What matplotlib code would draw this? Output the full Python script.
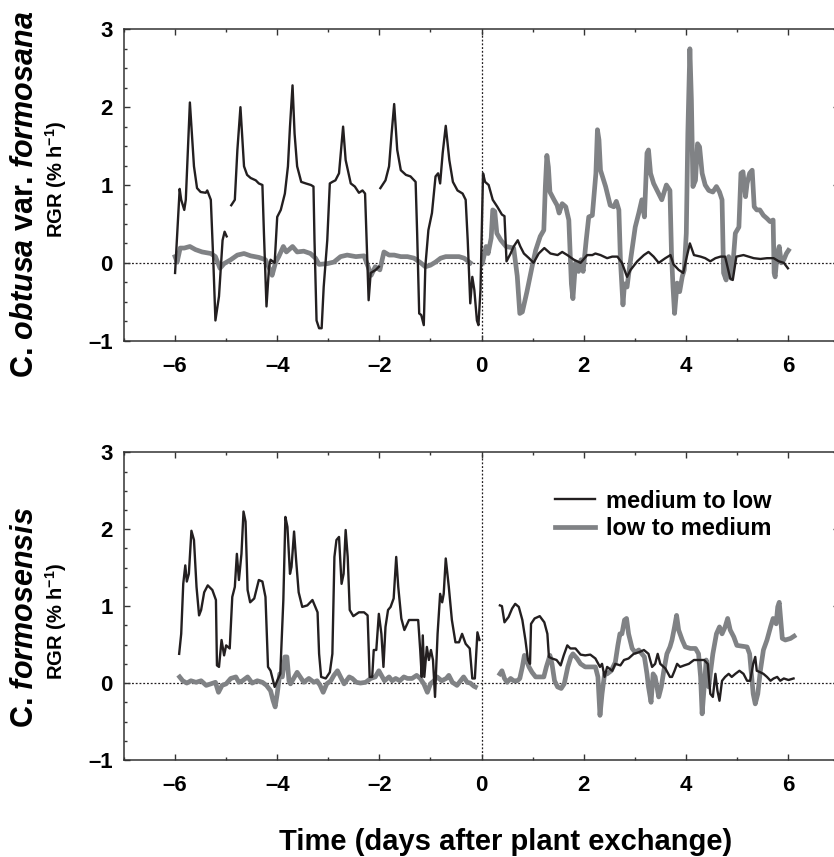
import numpy as np
import matplotlib
matplotlib.use("Agg")
import matplotlib.pyplot as plt
from matplotlib.ticker import MultipleLocator, FuncFormatter

nan = np.nan

# ---------------------------
# C. obtusa var. formosana (top)
# ---------------------------
top_ml_t = [-6.00, -5.91, -5.88, -5.82, -5.79, -5.71, -5.63, -5.57, -5.50, -5.40, -5.37, -5.30,
            -5.25, -5.21, -5.14, -5.07, -5.03, -4.99, -4.95,
            -4.90, -4.83, -4.78, -4.72, -4.65, -4.59, -4.52, -4.42, -4.36, -4.29, -4.26, -4.21,
            -4.16, -4.13, -4.05, -4.00, -3.93, -3.85, -3.79, -3.75, -3.70, -3.66, -3.61, -3.53,
            -3.44, -3.34, -3.29, -3.27, -3.23, -3.18, -3.13, -3.09, -3.02, -2.97, -2.92, -2.86,
            -2.79, -2.71, -2.66, -2.56, -2.48, -2.40, -2.33, -2.28, -2.25, -2.21, -2.17, -2.07,
            -2.01, -1.99,
            -1.98, -1.88, -1.81, -1.76, -1.71, -1.65, -1.58, -1.48, -1.39, -1.29, -1.26, -1.22,
            -1.18, -1.13, -1.10, -1.04, -0.97, -0.90, -0.85, -0.81, -0.76, -0.70, -0.63, -0.56,
            -0.47, -0.37, -0.31, -0.27, -0.22, -0.18, -0.14, -0.09, -0.06, -0.02, 0.03, 0.07,
            0.14, 0.22, 0.31, 0.40, 0.45, 0.49, 0.57, 0.63, 0.71, 0.76, 0.83, 0.93, 1.02, 1.12,
            1.23, 1.35, 1.49, 1.58, 1.68, 1.81, 1.94, 2.07, 2.17, 2.23, 2.33, 2.46, 2.56, 2.66,
            2.75, 2.85, 2.92, 3.05, 3.18, 3.27, 3.37, 3.47, 3.60, 3.70, 3.76, 3.86, 3.95, 4.02,
            4.08, 4.16, 4.29, 4.38, 4.48, 4.58, 4.68, 4.77, 4.87, 4.92, 4.99, 5.13, 5.23, 5.33,
            5.46, 5.59, 5.72, 5.82, 5.92, 6.00]
top_ml_v = [-0.13, 0.95, 0.81, 0.68, 0.81, 2.06, 1.24, 0.96, 0.91, 0.90, 0.93, 0.81,
            0.00, -0.74, -0.43, 0.29, 0.40, 0.34, nan,
            0.74, 0.81, 1.45, 2.00, 1.24, 1.13, 1.09, 1.06, 1.02, 1.00, 0.38, -0.56,
            -0.05, 0.04, 0.00, 0.59, 0.68, 0.89, 1.24, 1.75, 2.28, 1.66, 1.24, 1.04,
            1.02, 1.00, 0.98, 0.29, -0.74, -0.84, -0.84, -0.31, 0.29, 1.02, 1.04, 1.06,
            1.15, 1.75, 1.32, 1.02, 0.98, 0.90, 0.93, 0.89, 0.29, -0.48, -0.13, -0.09,
            -0.05, nan,
            0.96, 1.06, 1.24, 1.66, 2.04, 1.45, 1.19, 1.13, 1.11, 1.04, 0.38, -0.65,
            -0.67, -0.80, -0.05, 0.42, 0.64, 1.11, 1.15, 1.02, 1.41, 1.76, 1.32, 1.04,
            0.93, 0.89, 0.81, 0.29, -0.52, -0.18, -0.35, -0.74, -0.80, -0.35, 1.15, 1.04,
            1.00, 0.81, 0.72, 0.62, 0.60, 0.02, 0.12, 0.21, 0.29, 0.21, 0.12, 0.06, 0.00, 0.12,
            0.19, 0.12, 0.10, 0.14, 0.10, 0.04, 0.00, 0.10, 0.10, 0.12, 0.10, 0.06, 0.08, 0.08,
            0.00, -0.18, -0.09, 0.02, 0.10, 0.14, 0.08, 0.00, 0.06, 0.10, -0.02, -0.09, -0.13, 0.08,
            0.25, 0.10, 0.08, 0.06, 0.02, 0.06, 0.08, 0.08, -0.20, -0.22, 0.08, 0.10, 0.08, 0.06,
            0.05, 0.06, 0.06, 0.02, 0.00, -0.07]

top_lm_t = [-6.00, -5.96, -5.90, -5.82, -5.71, -5.60, -5.47, -5.30, -5.21, -5.12, -5.04, -4.91,
            -4.78, -4.65, -4.52, -4.36, -4.23, -4.14, -4.10, -4.03, -3.97, -3.88, -3.82, -3.70,
            -3.61, -3.48, -3.35, -3.25, -3.18, -3.02, -2.89, -2.76, -2.63, -2.46, -2.30, -2.22,
            -2.16, -2.08, -1.99, -1.91, -1.81, -1.71, -1.58, -1.45, -1.32, -1.19, -1.10, -1.00,
            -0.90, -0.80, -0.70, -0.57, -0.44, -0.34, -0.22, -0.10,
            0.02, 0.06, 0.09, 0.13, 0.19, 0.22, 0.26, 0.30, 0.38, 0.48, 0.63, 0.70, 0.75, 0.80,
            0.89, 0.99, 1.06, 1.15, 1.22, 1.25, 1.28, 1.31, 1.34, 1.42, 1.48, 1.52, 1.58, 1.65,
            1.71, 1.76, 1.79, 1.84, 1.90, 1.95, 1.99, 2.05, 2.10, 2.17, 2.24, 2.27, 2.30, 2.33,
            2.43, 2.52, 2.59, 2.64, 2.69, 2.72, 2.77, 2.80, 2.85, 2.90, 3.01, 3.08, 3.14, 3.19,
            3.24, 3.27, 3.31, 3.37, 3.47, 3.53, 3.62, 3.69, 3.72, 3.75, 3.78, 3.83, 3.88, 3.93,
            3.97, 4.01, 4.04, 4.08, 4.11, 4.14, 4.19, 4.23, 4.27, 4.32, 4.38, 4.45, 4.53, 4.60,
            4.66, 4.71, 4.74, 4.79, 4.84, 4.89, 4.93, 4.97, 5.04, 5.08, 5.12, 5.17, 5.20, 5.25,
            5.30, 5.34, 5.39, 5.45, 5.52, 5.59, 5.65, 5.71, 5.73, 5.75, 5.79, 5.83, 5.87, 5.92,
            5.97, 6.01]
top_lm_v = [0.08, 0.01, 0.19, 0.19, 0.21, 0.17, 0.14, 0.12, 0.08, -0.07, -0.01, 0.04,
            0.10, 0.12, 0.09, 0.07, 0.04, -0.09, -0.16, 0.01, 0.08, 0.21, 0.14, 0.21,
            0.14, 0.15, 0.12, 0.06, -0.02, -0.01, 0.01, 0.08, 0.10, 0.08, 0.09, -0.05,
            -0.16, -0.05, -0.09, 0.14, 0.10, 0.10, 0.08, 0.08, 0.06, 0.00, -0.05, -0.03,
            0.01, 0.06, 0.08, 0.08, 0.08, 0.06, 0.00, nan,
            0.00, 0.12, 0.21, 0.12, 0.32, 0.68, 0.66, 0.38, 0.29, 0.21, 0.19, -0.17, -0.65, -0.63,
            -0.37, -0.05, 0.16, 0.34, 0.42, 0.98, 1.38, 1.23, 0.91, 0.81, 0.74, 0.64, 0.76, 0.72,
            0.55, -0.27, -0.46, 0.00, -0.11, 0.04, -0.11, 0.29, 0.59, 0.61, 1.15, 1.71, 1.58, 1.19,
            0.98, 0.74, 0.72, 0.79, 0.68, 0.04, -0.54, -0.27, -0.31, -0.05, 0.46, 0.64, 0.81, 0.59,
            1.41, 1.45, 1.15, 1.02, 0.89, 0.81, 1.00, 0.93, 0.12, -0.31, -0.65, -0.26, -0.37, -0.18,
            -0.09, 0.38, 1.66, 2.75, 2.09, 0.98, 1.06, 1.53, 1.49, 1.15, 1.00, 0.93, 0.91, 0.98,
            0.91, 0.81, -0.13, -0.22, 0.08, -0.20, 0.04, 0.38, 0.46, 1.15, 1.17, 0.85, 1.02, 1.15,
            1.19, 0.72, 0.68, 0.68, 0.61, 0.57, 0.53, 0.55, -0.13, -0.18, 0.12, 0.21, 0.00, 0.04,
            0.12, 0.16]

# ---------------------------
# C. formosensis (bottom)
# ---------------------------
bot_ml_t = [-5.92, -5.88, -5.84, -5.80, -5.77, -5.73, -5.68, -5.63, -5.58, -5.53, -5.49, -5.43,
            -5.36, -5.27, -5.20, -5.18, -5.14, -5.09, -5.04, -5.00, -4.93, -4.88, -4.83, -4.79,
            -4.75, -4.70, -4.66, -4.62, -4.58, -4.53, -4.45, -4.36, -4.29, -4.23, -4.18, -4.13,
            -4.05, -4.00, -3.94, -3.88, -3.84, -3.80, -3.75, -3.72, -3.67, -3.63, -3.58, -3.51,
            -3.41, -3.31, -3.21, -3.18, -3.14, -3.05, -2.97, -2.92, -2.88, -2.84, -2.79, -2.74,
            -2.70, -2.66, -2.62, -2.58, -2.51, -2.40, -2.30, -2.23, -2.19, -2.14, -2.11, -2.06,
            -2.01, -1.96, -1.92, -1.88, -1.83, -1.78, -1.72, -1.67, -1.63, -1.57, -1.51, -1.42,
            -1.32, -1.24, -1.20, -1.17, -1.15, -1.12, -1.07, -1.03, -0.99, -0.95, -0.91, -0.86,
            -0.81, -0.77, -0.74, -0.70, -0.64, -0.58, -0.51, -0.44, -0.38, -0.31, -0.23, -0.18,
            -0.13, -0.08, -0.04, 0.10,
            0.36, 0.40, 0.45, 0.53, 0.60, 0.66, 0.73, 0.80, 0.86, 0.91, 0.95, 0.97, 1.04, 1.14,
            1.23, 1.29, 1.32, 1.38, 1.47, 1.55, 1.61, 1.68, 1.74, 1.84, 1.94, 2.03, 2.13, 2.23,
            2.32, 2.36, 2.41, 2.46, 2.56, 2.62, 2.72, 2.79, 2.88, 2.98, 3.08, 3.18, 3.27, 3.34,
            3.40, 3.45, 3.50, 3.60, 3.69, 3.73, 3.78, 3.83, 3.89, 3.97, 4.06, 4.16, 4.28, 4.36,
            4.43, 4.48, 4.53, 4.58, 4.62, 4.66, 4.71, 4.77, 4.84, 4.90, 4.97, 5.05, 5.13, 5.20,
            5.26, 5.32, 5.36, 5.39, 5.46, 5.52, 5.59, 5.66, 5.72, 5.79, 5.85, 5.92, 6.01, 6.11]
bot_ml_v = [0.38, 0.64, 1.29, 1.53, 1.32, 1.42, 1.98, 1.86, 1.25, 0.88, 0.95, 1.18,
            1.27, 1.21, 1.08, 0.23, 0.21, 0.56, 0.36, 0.49, 0.45, 1.12, 1.25, 1.68,
            1.34, 1.68, 2.23, 2.10, 1.21, 1.05, 1.10, 1.34, 1.32, 1.12, 0.21, 0.16,
            -0.05, 0.03, 0.12, 1.08, 2.16, 2.03, 1.42, 1.51, 1.97, 1.60, 1.18, 0.99,
            1.01, 1.08, 0.92, 0.38, 0.08, 0.06, 0.14, 0.38, 1.64, 1.86, 1.90, 1.29,
            1.42, 1.99, 1.64, 0.95, 0.87, 0.92, 0.92, 0.88, 0.08, 0.08, 0.43, 0.43,
            0.90, 0.64, 0.21, 0.73, 0.95, 0.99, 1.10, 1.64, 1.25, 0.84, 0.69, 0.82,
            0.82, 0.82, 0.43, 0.08, 0.62, 0.08, 0.47, 0.30, 0.43, 0.30, -0.18, 0.64,
            1.16, 1.05, 1.16, 1.62, 1.25, 0.82, 0.53, 0.53, 0.64, 0.51, 0.45, 0.06,
            0.06, 0.66, 0.56, nan,
            1.01, 1.00, 0.79, 0.86, 0.97, 1.03, 0.99, 0.82, 0.56, 0.30, 0.25, 0.77, 0.84, 0.87,
            0.79, 0.64, 0.34, 0.32, 0.30, 0.23, 0.36, 0.49, 0.45, 0.45, 0.37, 0.36, 0.37, 0.32,
            0.21, 0.25, 0.08, 0.21, 0.16, 0.25, 0.23, 0.30, 0.32, 0.38, 0.40, 0.43, 0.38, 0.21,
            0.25, 0.38, 0.25, 0.19, 0.08, 0.08, 0.16, 0.25, 0.21, 0.23, 0.25, 0.30, 0.30, 0.30,
            0.25, -0.14, -0.18, 0.12, -0.10, -0.23, 0.03, 0.08, 0.12, 0.08, 0.12, 0.16, 0.12, 0.03,
            0.03, 0.25, 0.34, 0.16, 0.14, 0.12, 0.08, 0.03, 0.06, 0.08, 0.03, 0.06, 0.04, 0.06]

bot_lm_t = [-5.91, -5.85, -5.77, -5.69, -5.59, -5.49, -5.39, -5.30, -5.21, -5.15, -5.08, -5.00,
            -4.91, -4.81, -4.75, -4.68, -4.58, -4.49, -4.39, -4.29, -4.21, -4.13, -4.08, -4.04,
            -4.00, -3.95, -3.90, -3.85, -3.81, -3.77, -3.74, -3.68, -3.61, -3.55, -3.48, -3.38,
            -3.28, -3.22, -3.16, -3.10, -3.03, -2.95, -2.89, -2.82, -2.76, -2.69, -2.59, -2.53,
            -2.45, -2.37, -2.27, -2.17, -2.08, -2.01, -1.96, -1.90, -1.81, -1.75, -1.68, -1.60,
            -1.52, -1.45, -1.36, -1.27, -1.20, -1.13, -1.06, -1.00, -0.93, -0.87, -0.78, -0.69,
            -0.64, -0.57, -0.48, -0.41, -0.35, -0.28, -0.22, -0.15, -0.12, 0.10,
            0.36, 0.40, 0.45, 0.50, 0.57, 0.63, 0.70, 0.75, 0.80, 0.84, 0.88, 0.93, 0.99, 1.06,
            1.14, 1.22, 1.27, 1.34, 1.38, 1.43, 1.49, 1.56, 1.62, 1.69, 1.75, 1.79, 1.87, 1.94,
            2.03, 2.13, 2.23, 2.28, 2.32, 2.36, 2.41, 2.46, 2.54, 2.62, 2.67, 2.71, 2.75, 2.80,
            2.84, 2.88, 2.95, 3.01, 3.08, 3.14, 3.19, 3.24, 3.27, 3.32, 3.36, 3.40, 3.47, 3.52,
            3.57, 3.63, 3.69, 3.73, 3.78, 3.82, 3.86, 3.93, 3.99, 4.09, 4.19, 4.25, 4.29, 4.32,
            4.35, 4.40, 4.45, 4.48, 4.53, 4.60, 4.66, 4.71, 4.77, 4.82, 4.87, 4.94, 5.00, 5.10,
            5.20, 5.25, 5.28, 5.32, 5.36, 5.41, 5.46, 5.52, 5.59, 5.66, 5.71, 5.77, 5.80, 5.83,
            5.86, 5.89, 5.95, 6.05, 6.12]
bot_lm_v = [0.08, 0.03, 0.00, 0.03, 0.01, 0.03, -0.03, -0.01, 0.01, -0.12, -0.03, -0.01,
            0.06, 0.08, 0.01, 0.03, 0.08, 0.00, 0.03, 0.01, -0.03, -0.10, -0.23, -0.31,
            -0.14, 0.12, 0.08, 0.34, 0.34, 0.03, -0.01, 0.06, 0.14, 0.08, 0.01, 0.06,
            0.01, 0.03, -0.03, -0.12, -0.01, 0.03, 0.10, 0.16, 0.08, -0.01, 0.08, 0.06,
            0.01, 0.00, 0.01, 0.06, 0.08, 0.16, 0.10, 0.03, 0.08, 0.03, 0.06, 0.03,
            0.08, 0.06, 0.06, 0.10, 0.06, -0.01, -0.12, -0.01, 0.03, 0.08, 0.03, 0.06,
            0.10, 0.01, -0.03, 0.03, 0.08, 0.01, 0.00, -0.04, -0.05, nan,
            0.12, 0.16, 0.06, 0.01, 0.06, 0.03, 0.03, 0.06, 0.21, 0.36, 0.30, 0.21, 0.14, 0.08,
            0.08, 0.08, 0.21, 0.36, 0.25, 0.03, -0.05, -0.07, -0.01, 0.21, 0.34, 0.38, 0.32, 0.25,
            0.21, 0.21, 0.21, 0.08, -0.42, -0.14, 0.12, 0.12, 0.16, 0.27, 0.49, 0.64, 0.64, 0.82,
            0.84, 0.64, 0.45, 0.40, 0.43, 0.38, 0.34, 0.12, -0.05, -0.25, 0.12, 0.08, -0.18, -0.05,
            0.16, 0.38, 0.47, 0.56, 0.73, 0.88, 0.69, 0.56, 0.47, 0.45, 0.45, 0.38, 0.08, -0.40,
            -0.14, 0.30, -0.05, 0.12, 0.38, 0.64, 0.73, 0.64, 0.73, 0.84, 0.69, 0.60, 0.49, 0.48,
            0.47, 0.38, 0.16, -0.14, -0.27, -0.14, 0.16, 0.43, 0.56, 0.73, 0.84, 0.77, 0.99, 1.05,
            0.82, 0.58, 0.56, 0.58, 0.61]

labels = ['medium to low', 'low to medium']
species = [r'C. $\mathit{obtusa}$ var. $\mathit{formosana}$',
           r'C. $\mathit{formosensis}$']

black = '#231f20'
gray = '#808285'

plt.rcParams['font.family'] = ['Liberation Sans', 'DejaVu Sans']
plt.rcParams['font.weight'] = 'bold'
plt.rcParams['mathtext.fontset'] = 'custom'
plt.rcParams['mathtext.rm'] = 'Liberation Sans:bold'
plt.rcParams['mathtext.bf'] = 'Liberation Sans:bold'
plt.rcParams['mathtext.it'] = 'Liberation Sans:italic:bold'
plt.rcParams['mathtext.default'] = 'rm'

W, H = 834, 857


def px_axes(left, top, right, bottom):
    return [left / W, 1 - bottom / H, (right - left) / W, (bottom - top) / H]


def style_axes(ax):
    ax.set_xlim(-7, 7)
    ax.set_ylim(-1, 3)
    ax.xaxis.set_major_locator(MultipleLocator(2))
    ax.xaxis.set_minor_locator(MultipleLocator(1))
    ax.yaxis.set_major_locator(MultipleLocator(1))
    ax.yaxis.set_minor_locator(MultipleLocator(0.25))
    fmt = FuncFormatter(lambda v, p: ('%d' % round(v)).replace('-', '\u2013'))
    ax.xaxis.set_major_formatter(fmt)
    ax.yaxis.set_major_formatter(fmt)
    ax.tick_params(which='both', direction='in', top=True, right=True, width=1.0, color='#333333')
    ax.tick_params(which='major', length=4)
    ax.tick_params(which='minor', length=2)
    ax.tick_params(axis='x', which='major', pad=11, labelsize=16)
    ax.tick_params(axis='y', which='major', pad=8, labelsize=16)
    for s in ax.spines.values():
        s.set_linewidth(1.1)
        s.set_color('#333333')
    ax.axhline(0, color=black, lw=0.9, ls=(0, (1.5, 1.5)), zorder=1)
    ax.axvline(0, color=black, lw=0.9, ls=(0, (1.5, 1.5)), zorder=1)


fig = plt.figure(figsize=(W / 100, H / 100), dpi=100)
ax1 = fig.add_axes(px_axes(124, 29.3, 839, 340.7))
ax2 = fig.add_axes(px_axes(124, 452.3, 839, 760))

for ax, ml_t, ml_v, lm_t, lm_v in [(ax1, top_ml_t, top_ml_v, top_lm_t, top_lm_v),
                                    (ax2, bot_ml_t, bot_ml_v, bot_lm_t, bot_lm_v)]:
    style_axes(ax)
    ax.plot(lm_t, lm_v, color=gray, lw=3.4, zorder=2, label=labels[1])
    ax.plot(ml_t, ml_v, color=black, lw=1.7, zorder=3, label=labels[0])

# legend in the lower panel
h, l = ax2.get_legend_handles_labels()
ax2.legend(h[::-1], l[::-1], loc='center left', bbox_to_anchor=(0.603, 0.796),
           frameon=False, fontsize=17, handlelength=1.7, handletextpad=0.45,
           labelspacing=0.2, borderpad=0, borderaxespad=0)

# y labels
for cy, sp in [(194, species[0]), (617, species[1])]:
    fig.text(33 / W, 1 - cy / H, sp, rotation=90, rotation_mode='anchor',
             ha='center', va='baseline', fontsize=22)
for cy in [179, 621]:
    fig.text(63 / W, 1 - cy / H, r'RGR (% h$^{-1}$)', rotation=90,
             rotation_mode='anchor', ha='center', va='baseline', fontsize=14.5)

fig.text(506 / W, 1 - 850 / H, 'Time (days after plant exchange)', ha='center',
         va='baseline', fontsize=21)

fig.savefig('out.png', dpi=100, facecolor='white')
